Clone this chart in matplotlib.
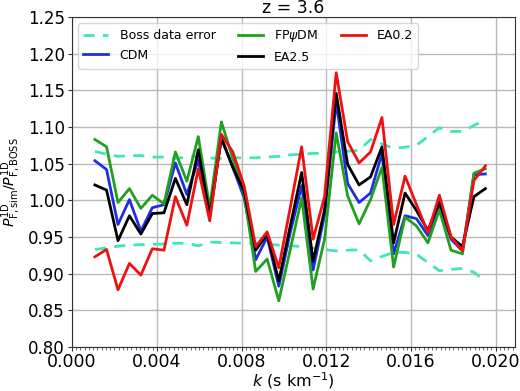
import matplotlib
matplotlib.use("Agg")
import matplotlib.pyplot as plt
from matplotlib.ticker import MultipleLocator

k = [0.00108, 0.00163, 0.00217, 0.00271, 0.00325, 0.00379, 0.00434, 0.00488,
     0.00542, 0.00596, 0.00650, 0.00705, 0.00759, 0.00813, 0.00867, 0.00921,
     0.00976, 0.01030, 0.01084, 0.01138, 0.01192, 0.01247, 0.01301, 0.01355,
     0.01409, 0.01463, 0.01518, 0.01572, 0.01626, 0.01680, 0.01734, 0.01789,
     0.01843, 0.01897, 0.01951]

boss_upper = [1.0666, 1.063, 1.060, 1.061, 1.061, 1.059, 1.059, 1.057, 1.059,
              1.060, 1.0575, 1.0575, 1.058, 1.058, 1.058, 1.059, 1.060, 1.062,
              1.063, 1.064, 1.064, 1.066, 1.067, 1.068, 1.083, 1.077, 1.071,
              1.0725, 1.075, 1.087, 1.099, 1.094, 1.094, 1.102, 1.110]
boss_lower = [0.933, 0.935, 0.9375, 0.939, 0.9395, 0.940, 0.9405, 0.9415,
              0.9415, 0.938, 0.943, 0.9425, 0.942, 0.9415, 0.941, 0.940, 0.939,
              0.938, 0.937, 0.935, 0.933, 0.931, 0.932, 0.9325, 0.9175, 0.9235,
              0.929, 0.929, 0.9266, 0.915, 0.904, 0.906, 0.907, 0.902, 0.890]

cdm = [1.054, 1.042, 0.967, 1.001, 0.958, 0.990, 0.994, 1.051, 1.008, 1.055,
       0.978, 1.085, 1.045, 1.003, 0.919, 0.950, 0.883, 0.956, 1.020, 0.905,
       0.980, 1.134, 1.023, 0.997, 1.010, 1.064, 0.927, 0.979, 0.975, 0.952,
       0.994, 0.947, 0.931, 1.035, 1.036]
fpdm = [1.083, 1.073, 0.997, 1.016, 0.989, 1.007, 0.995, 1.066, 1.026, 1.087,
        0.990, 1.107, 1.057, 1.008, 0.903, 0.920, 0.863, 0.933, 1.003, 0.879,
        0.947, 1.092, 1.006, 0.968, 1.001, 1.045, 0.909, 0.977, 0.965, 0.942,
        0.987, 0.932, 0.927, 1.037, 1.043]
ea25 = [1.021, 1.014, 0.945, 0.979, 0.954, 0.982, 0.983, 1.030, 0.994, 1.069,
        0.980, 1.085, 1.045, 1.012, 0.932, 0.954, 0.890, 0.965, 1.038, 0.917,
        0.987, 1.146, 1.049, 1.021, 1.032, 1.073, 0.942, 1.010, 0.986, 0.959,
        0.998, 0.950, 0.937, 1.005, 1.016]
ea02 = [0.923, 0.933, 0.878, 0.914, 0.898, 0.934, 0.932, 1.005, 0.966, 1.043,
        0.972, 1.090, 1.066, 1.019, 0.937, 0.957, 0.908, 0.990, 1.073, 0.947,
        1.005, 1.174, 1.080, 1.051, 1.066, 1.113, 0.967, 1.033, 0.994, 0.956,
        1.007, 0.950, 0.931, 1.027, 1.047]

xticks = [0.000, 0.004, 0.008, 0.012, 0.016, 0.020]
yticks = [0.80, 0.85, 0.90, 0.95, 1.00, 1.05, 1.10, 1.15, 1.20, 1.25]

fig = plt.figure(figsize=(5.2, 3.91), dpi=100)
ax = fig.add_axes([0.1385, 0.1125, 0.8515, 0.844])

bcol = '#40e6b4'
ax.plot(k, boss_upper, ls='--', color=bcol, lw=2, label='Boss data error', dashes=(4, 3))
ax.plot(k, boss_lower, ls='--', color=bcol, lw=2, dashes=(4, 3))
ax.plot(k, cdm, color='#1f2ee6', lw=2, label='CDM')
ax.plot(k, fpdm, color='#22a020', lw=2, label=r'FP$\psi$DM')
ax.plot(k, ea25, color='black', lw=2, label='EA2.5')
ax.plot(k, ea02, color='#ee1111', lw=2, label='EA0.2')

ax.set_xlim(0, 0.0209)
ax.set_ylim(0.80, 1.25)
ax.set_xticks(xticks)
ax.set_xticklabels([f'{t:.3f}' for t in xticks])
ax.set_yticks(yticks)
ax.set_yticklabels([f'{t:.2f}' for t in yticks])
ax.xaxis.set_minor_locator(MultipleLocator(0.0002))
ax.tick_params(axis='x', which='major', labelsize=12.5, length=3, pad=1.5, color='#333333')
ax.tick_params(axis='y', which='major', labelsize=12, length=3, pad=2, color='#333333')
ax.tick_params(axis='x', which='minor', length=2, color='#555555')
ax.grid(True, which='major', color='#b8b8b8', lw=1)
ax.set_axisbelow(True)
for s in ax.spines.values():
    s.set_color('#333333')

ax.set_title('z = 3.6', fontsize=12.5, pad=1.5)
ax.set_xlabel(r'$k$ (s km$^{-1}$)', fontsize=11.5)
ax.xaxis.set_label_coords(0.5, -0.07)
ax.set_ylabel(r'$P^{\rm 1D}_{\rm F,sim}/P^{\rm 1D}_{\rm F,BOSS}$', fontsize=10.2)
ax.yaxis.set_label_coords(-0.111, 0.5)

ax.legend(ncol=3, loc='upper left', fontsize=9, frameon=True, handlelength=2.0,
          borderaxespad=0.5, columnspacing=1.8, handletextpad=0.9)

fig.savefig('out.png', dpi=100)
